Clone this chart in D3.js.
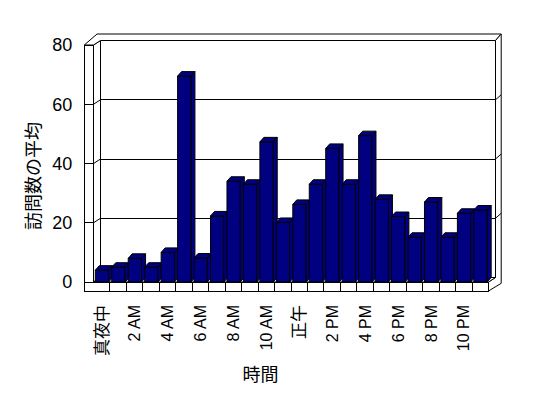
<!DOCTYPE html>
<html>
<head>
<meta charset="utf-8">
<script src="https://cdn.jsdelivr.net/npm/d3@7"></script>
<style>
  body { margin: 0; background: #fff; }
  text { fill: #000; }
</style>
</head>
<body>
<div id="chart"></div>
<script>
// hours of the day (categories) and average visits per hour
var hours = ["真夜中", "1 AM", "2 AM", "3 AM", "4 AM", "5 AM", "6 AM", "7 AM", "8 AM", "9 AM", "10 AM", "11 AM",
             "正午", "1 PM", "2 PM", "3 PM", "4 PM", "5 PM", "6 PM", "7 PM", "8 PM", "9 PM", "10 PM", "11 PM"];
var visits = [4.0, 5.0, 8.0, 5.0, 10.0, 69.5, 8.1, 22.3, 34.0, 33.0, 47.3, 20.1,
              26.2, 33.0, 45.1, 33.0, 49.4, 27.9, 22.1, 15.1, 27.0, 15.1, 23.2, 24.3];
var yTicks = [0, 20, 40, 60, 80];
var xTickLabels = hours.filter(function(d, i) { return i % 2 === 0; });

var svgWidth = 548;
var svgHeight = 398;

var svg = d3.select("#chart")
    .append("svg")
    .attr("width", svgWidth)
    .attr("height", svgHeight);

// scales
// ==============================
var xScale = d3.scaleBand()
    .domain(hours)
    .range([93.5, 488.5])
    .padding(0);

var yScale = d3.scaleLinear()
    .domain([0, 80])
    .range([282, 45]);

var x0 = xScale.range()[0];
var x1 = xScale.range()[1];
var y0 = yScale(0);
var yTop = yScale(80);
var xL = x0 - 9.2;       // outer edge of the left wall
var yB = y0 + 9;         // bottom of the floor slab
var D = {x: 7, y: -4.5}; // front plane -> back wall face
var F = {x: 12.7, y: -7.7}; // front plane -> back of the slabs
var topBack = 34;
var B = {x: 4, y: -4.5}; // bar depth

function pts(arr) { return arr.map(function(p) { return p.join(","); }).join(" "); }

var walls = svg.append("g")
    .attr("fill", "#fff")
    .attr("stroke", "#000")
    .attr("stroke-width", 1);

// back wall with gridlines
walls.append("rect")
    .attr("x", x0 + D.x).attr("y", yTop + D.y)
    .attr("width", x1 - x0).attr("height", y0 - yTop)
    .attr("shape-rendering", "crispEdges");

walls.selectAll(".grid")
    .data(yTicks.slice(1, 4))
    .enter().append("line")
    .attr("x1", x0 + D.x).attr("x2", x1 + D.x)
    .attr("y1", d => yScale(d) + D.y).attr("y2", d => yScale(d) + D.y)
    .attr("shape-rendering", "crispEdges");

// inner face of the left wall
walls.append("polygon")
    .attr("points", pts([[x0, yTop], [x0 + D.x, yTop + D.y], [x0 + D.x, y0 + D.y], [x0, y0]]));

walls.selectAll(".lslant")
    .data(yTicks.slice(1, 4))
    .enter().append("line")
    .attr("x1", x0).attr("x2", x0 + D.x)
    .attr("y1", d => yScale(d)).attr("y2", d => yScale(d) + D.y);

// top of the walls
walls.append("polygon")
    .attr("points", pts([[xL, yTop], [xL + F.x, topBack], [x1 + F.x, topBack],
                         [x1 + D.x, yTop + D.y], [x0 + D.x, yTop + D.y], [x0, yTop]]));

// right end of back wall and floor
walls.append("polygon")
    .attr("points", pts([[x1 + D.x, yTop + D.y], [x1 + F.x, topBack], [x1 + F.x, yB + F.y],
                         [x1, yB], [x1, y0], [x1 + D.x, y0 + D.y]]));

walls.selectAll(".rslant")
    .data(yTicks.slice(1, 4))
    .enter().append("line")
    .attr("x1", x1 + D.x).attr("x2", x1 + F.x)
    .attr("y1", d => yScale(d) + D.y).attr("y2", d => yScale(d) + D.y - 5);

// front face of the left wall with ticks
walls.append("rect")
    .attr("x", xL).attr("y", yTop)
    .attr("width", x0 - xL).attr("height", y0 - yTop)
    .attr("shape-rendering", "crispEdges");

walls.selectAll(".ytick")
    .data(yTicks.slice(1, 4))
    .enter().append("line")
    .attr("x1", xL).attr("x2", x0)
    .attr("y1", d => yScale(d)).attr("y2", d => yScale(d))
    .attr("shape-rendering", "crispEdges");

// floor top and front
walls.append("polygon")
    .attr("points", pts([[x0, y0], [x1, y0], [x1 + D.x, y0 + D.y], [x0 + D.x, y0 + D.y]]));

walls.append("rect")
    .attr("x", xL).attr("y", y0)
    .attr("width", x1 - xL).attr("height", yB - y0)
    .attr("shape-rendering", "crispEdges");

walls.selectAll(".xtick")
    .data(hours.slice(1))
    .enter().append("line")
    .attr("x1", d => xScale(d)).attr("x2", d => xScale(d))
    .attr("y1", y0).attr("y2", yB)
    .attr("shape-rendering", "crispEdges");

// bars
// ==============================
var bw = xScale.bandwidth() * 0.81;
var bOff = xScale.bandwidth() * 0.11;

var bars = svg.append("g")
    .attr("fill", "#000080")
    .attr("stroke", "#000")
    .attr("stroke-width", 1)
    .attr("stroke-linejoin", "round");

hours.forEach(function(h, i) {
    var bx = xScale(h) + bOff;
    var by = yScale(visits[i]);
    var g = bars.append("g");
    g.append("rect")
        .attr("x", bx).attr("y", by)
        .attr("width", bw).attr("height", y0 - by);
    g.append("polygon")
        .attr("points", pts([[bx + bw, by], [bx + bw + B.x, by + B.y], [bx + bw + B.x, y0 + B.y], [bx + bw, y0]]));
    g.append("polygon")
        .attr("points", pts([[bx, by], [bx + bw, by], [bx + bw + B.x, by + B.y], [bx + B.x, by + B.y]]));
});

// axes labels
// ==============================
var leftAxis = d3.axisLeft(yScale).tickValues(yTicks).tickSize(0).tickPadding(12);
var yAxis = svg.append("g")
    .attr("transform", `translate(${xL}, 0)`)
    .call(leftAxis);
yAxis.select(".domain").remove();
yAxis.selectAll("text")
    .style("font-family", "'Liberation Sans Narrow', 'Liberation Sans', sans-serif")
    .style("font-size", "18px");

var bottomAxis = d3.axisBottom(xScale).tickValues(xTickLabels).tickSize(0);
var xAxis = svg.append("g")
    .attr("transform", `translate(0, ${yB})`)
    .call(bottomAxis);
xAxis.select(".domain").remove();
xAxis.selectAll("text")
    .attr("transform", "rotate(-90)")
    .attr("text-anchor", "end")
    .attr("x", -14)
    .attr("y", 0)
    .attr("dy", "0.35em")
    .style("font-family", "'Liberation Sans', 'Noto Sans CJK JP', sans-serif")
    .style("font-size", "16px");
xAxis.selectAll("text")
    .filter(d => /[^\x00-\x7F]/.test(d))
    .style("font-family", "'Noto Sans CJK JP', sans-serif")
    .style("font-size", "17px");

svg.append("text")
    .attr("transform", "translate(34, 176) rotate(-90)")
    .attr("text-anchor", "middle")
    .attr("dy", "0.35em")
    .style("font-family", "'Noto Sans CJK JP', sans-serif")
    .style("font-size", "18px")
    .text("訪問数の平均");

svg.append("text")
    .attr("x", 260.5)
    .attr("y", 375)
    .attr("text-anchor", "middle")
    .attr("dy", "0.35em")
    .style("font-family", "'Noto Sans CJK JP', sans-serif")
    .style("font-size", "18px")
    .text("時間");
</script>
</body>
</html>
